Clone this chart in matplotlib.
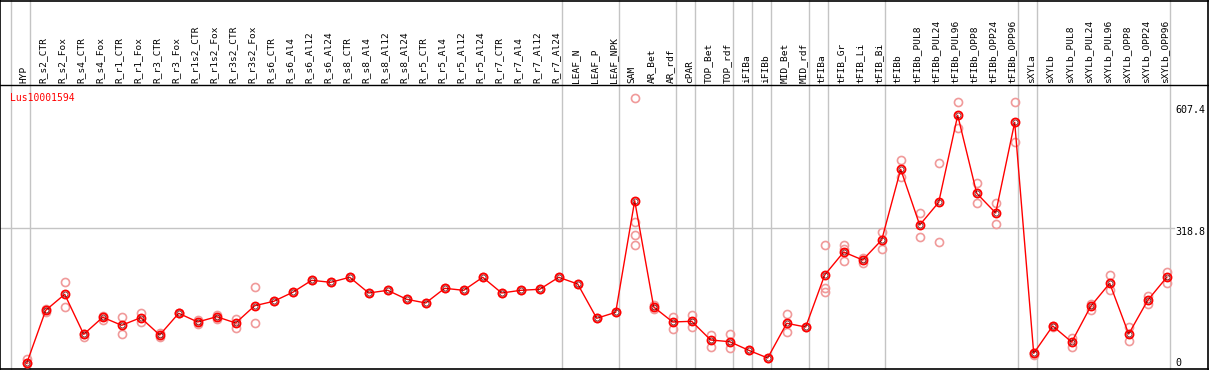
import matplotlib
matplotlib.use("Agg")
import matplotlib.pyplot as plt

categories = ["HYP", "R_s2_CTR", "R_s2_Fox", "R_s4_CTR", "R_s4_Fox", "R_r1_CTR", "R_r1_Fox",
              "R_r3_CTR", "R_r3_Fox", "R_r1s2_CTR", "R_r1s2_Fox", "R_r3s2_CTR", "R_r3s2_Fox",
              "R_s6_CTR", "R_s6_Al4", "R_s6_Al12", "R_s6_Al24", "R_s8_CTR", "R_s8_Al4",
              "R_s8_Al12", "R_s8_Al24", "R_r5_CTR", "R_r5_Al4", "R_r5_Al12", "R_r5_Al24",
              "R_r7_CTR", "R_r7_Al4", "R_r7_Al12", "R_r7_Al24", "LEAF_N", "LEAF_P", "LEAF_NPK",
              "SAM", "AR_Bet", "AR_rdf", "cPAR", "TOP_Bet", "TOP_rdf", "iFIBa", "iFIBb",
              "MID_Bet", "MID_rdf", "tFIBa", "tFIB_Gr", "tFIB_Li", "tFIB_Bi", "tFIBb",
              "tFIBb_PUL8", "tFIBb_PUL24", "tFIBb_PUL96", "tFIBb_OPP8", "tFIBb_OPP24",
              "tFIBb_OPP96", "sXYLa", "sXYLb", "sXYLb_PUL8", "sXYLb_PUL24", "sXYLb_PUL96",
              "sXYLb_OPP8", "sXYLb_OPP24", "sXYLb_OPP96"]

means = [1.6, 126.1, 163.7, 69.8, 109.7, 90.9, 108.8, 68.1, 119.1, 98.7, 111.1, 96.3, 136.9,
         147.3, 168.4, 196.6, 191.9, 203.7, 166.8, 173.1, 152.0, 143.3, 177.8, 173.1, 203.7,
         166.8, 173.1, 175.5, 203.7, 187.9, 107.4, 121.4,
         383.6, 133.9, 98.7, 100.3, 56.4, 52.4, 32.2, 14.1, 95.6, 86.9,
         209.1, 263.1, 244.3, 291.3, 457.4, 326.5, 379.8, 584.2, 401.0, 354.7, 567.8,
         25.1, 89.3, 51.7, 135.5, 189.6, 70.5, 149.6, 203.7]

replicates = [[10.6, 1.2], [122.2, 129.2], [193.3, 133.2], [63.4, 71.6], [103.4, 112.8],
              [109.7, 71.2], [119.8, 98.7], [62.7, 73.5], [119.1, 119.1], [104.1, 94.0],
              [106.4, 115.1], [105.7, 83.9], [180.2, 95.6],
              [147.3], [168.4], [196.6], [191.9], [203.7], [166.8], [173.1], [152.0], [143.3],
              [177.8], [173.1], [203.7], [166.8], [173.1], [175.5], [203.7], [187.9], [107.4],
              [121.4],
              [624.2, 332.9, 302.3, 278.8], [128.5, 138.6], [110.4, 82.9], [115.1, 87.6],
              [68.8, 40.6], [70.5, 36.9], [32.2], [14.1], [116.7, 74.5], [86.9],
              [279.5, 179.2, 168.4], [278.8, 270.4, 242.0], [236.6, 249.0], [310.0, 269.4],
              [478.5, 438.6], [354.0, 297.6], [471.5, 285.9], [616.2, 553.7], [425.2, 377.5],
              [377.5, 328.9], [616.2, 520.8],
              [20.4, 25.1], [86.9, 89.3], [61.8, 40.6], [141.6, 126.8], [208.4, 173.8],
              [86.9, 54.7], [160.4, 140.9], [216.1, 191.0]]

group_starts = [0, 1, 29, 32, 35, 36, 38, 39, 40, 42, 43, 46, 53, 54, 61]
gene_name = "Lus10001594"
axis_ticks = [607.4, 318.8, 0]
axis_labels = ["607.4", "318.8", "0"]

# ---- layout helpers (pixel geometry) ----
W, H = 1209, 370
PX0, STEP = 26.7, 19.0          # x pixel of first category, spacing
Y0PX, SCALE = 364.0, 0.4257     # y pixel of value 0, px per unit


def xd(px):
    return (px - PX0) / STEP


def yd(py):
    return (Y0PX - py) / SCALE


fig = plt.figure(figsize=(W / 100, H / 100), dpi=100)
ax = fig.add_axes([0, 0, 1, 1])
ax.set_xlim(xd(0), xd(W))
ax.set_ylim(yd(H), yd(0))
ax.set_xticks([])
ax.set_yticks([])
for s in ax.spines.values():
    s.set_visible(False)

red = "#ff0000"
light = "#f09a9a"
grey = "#c4c4c4"
mono = "DejaVu Sans Mono"

# vertical group separators
for k in group_starts:
    ax.axvline(k - 0.81, color=grey, lw=1.0, zorder=1)

# horizontal middle gridline
ax.plot([xd(0), xd(1174)], [axis_ticks[1], axis_ticks[1]], color=grey, lw=1.0, zorder=1)

# header separator
ax.plot([xd(0), xd(W)], [yd(85.3), yd(85.3)], color="black", lw=1.0, zorder=3)

# borders
ax.plot([xd(0.5), xd(0.5)], [yd(0), yd(H)], color="black", lw=1.2, zorder=3)
ax.plot([xd(1208.3), xd(1208.3)], [yd(0), yd(H)], color="black", lw=1.2, zorder=3)
ax.plot([xd(0), xd(W)], [yd(0.5), yd(0.5)], color="black", lw=1.2, zorder=3)
ax.plot([xd(0), xd(W)], [yd(369.3), yd(369.3)], color="black", lw=1.2, zorder=3)

xs = list(range(len(categories)))

# category labels
for i, c in enumerate(categories):
    ax.text(i, yd(82.5), c, rotation=90, rotation_mode="anchor", ha="left", va="baseline",
            fontsize=6.8, family=mono, color="black", zorder=4)

# replicates
rx, ry = [], []
for i, reps in enumerate(replicates):
    for r in reps:
        rx.append(i)
        ry.append(r)
ax.plot(rx, ry, ls="none", marker="o", ms=5.8, mfc="none", mec=light, mew=1.2, zorder=5)

# mean line and markers
ax.plot(xs, means, color=red, lw=1.0, zorder=6)
ax.plot(xs, means, ls="none", marker="o", ms=5.8, mfc="none", mec=red, mew=1.3, zorder=7)
ax.plot(xs, means, ls="none", marker="o", ms=3.6, mfc="none", mec="#5a0000", mew=0.5, zorder=8)

# gene name
ax.text(xd(10), yd(100.7), gene_name, color=red, fontsize=7, family=mono, ha="left",
        va="baseline", zorder=9)

# value labels on right
baselines_px = [112.7, 235.0, 365.7]
for lab, bpx in zip(axis_labels, baselines_px):
    ax.text(xd(1175), yd(bpx), lab, ha="left", va="baseline", fontsize=7.2, family=mono,
            color="black", zorder=9)

fig.savefig("out.png", dpi=100)
